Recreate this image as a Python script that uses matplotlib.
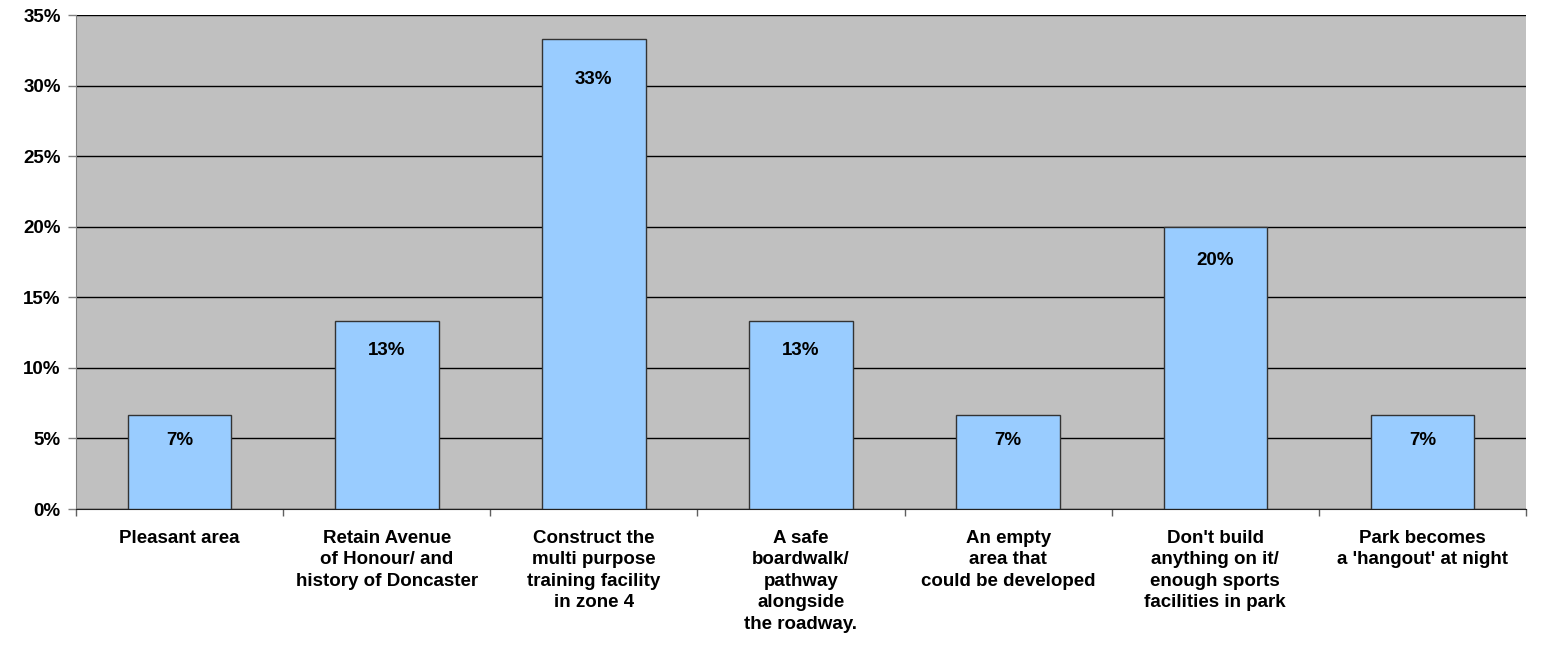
import matplotlib.pyplot as plt
from matplotlib.ticker import FixedLocator, PercentFormatter
import numpy as np

categories = [
    "Pleasant area",
    "Retain Avenue\nof Honour/ and\nhistory of Doncaster",
    "Construct the\nmulti purpose\ntraining facility\nin zone 4",
    "A safe\nboardwalk/\npathway\nalongside\nthe roadway.",
    "An empty\narea that\ncould be developed",
    "Don't build\nanything on it/\nenough sports\nfacilities in park",
    "Park becomes\na 'hangout' at night",
]
shares = [6.67, 13.33, 33.33, 13.33, 6.67, 20.0, 6.67]
y_ticks = [0, 5, 10, 15, 20, 25, 30, 35]

plt.rcParams['font.family'] = ['Liberation Sans', 'DejaVu Sans']
plt.rcParams['font.weight'] = 'bold'
FS = 13.5

fig = plt.figure(figsize=(15.52, 6.48), dpi=100)
ax = fig.add_axes([76 / 1552, 139 / 648, 1450 / 1552, 494 / 648])
ax.set_facecolor('#C0C0C0')

x = np.arange(len(categories))
ax.set_axisbelow(True)
ax.yaxis.grid(True, color='black', linewidth=1)
bars = ax.bar(x, shares, width=0.5, color='#99CCFF', edgecolor='#333333', linewidth=1, zorder=3)

# value labels sit inside the bar, just under its top
for b, v in zip(bars, shares):
    ax.annotate(f"{v:.0f}%", (b.get_x() + b.get_width() / 2, v),
                xytext=(0, -(22 + 0.57 * v) * 0.72), textcoords='offset points',
                ha='center', va='center', fontsize=FS, fontweight='bold', zorder=4)

ax.set_xlim(-0.5, len(categories) - 0.5)
ax.set_ylim(0, 35)
ax.set_yticks(y_ticks)
ax.yaxis.set_major_formatter(PercentFormatter(decimals=0))

ax.set_xticks(x)
ax.set_xticklabels(categories, fontsize=FS, fontweight='bold', linespacing=1.35, va='top')
ax.xaxis.set_minor_locator(FixedLocator(np.arange(-0.5, len(categories), 1.0)))
ax.tick_params(axis='x', which='major', length=0, pad=15)
ax.tick_params(axis='x', which='minor', length=5, color='#606060', width=1)
ax.tick_params(axis='y', length=6, color='#808080', width=1, pad=5, labelsize=FS)

for side in ['top', 'right']:
    ax.spines[side].set_visible(False)
ax.spines['left'].set_color('#808080')
ax.spines['bottom'].set_color('#202020')

fig.savefig('out.png', dpi=100)
